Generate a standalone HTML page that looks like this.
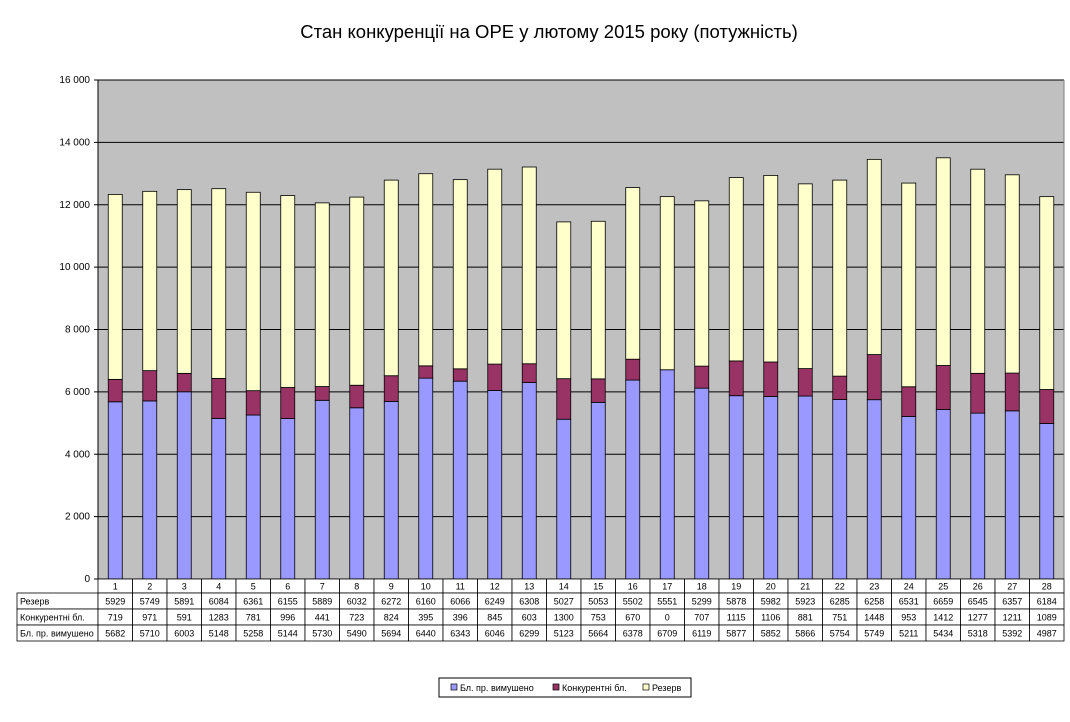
<!DOCTYPE html>
<html><head><meta charset="utf-8"><style>
body{margin:0;background:#fff;font-family:"Liberation Sans",sans-serif}
</style></head><body>
<svg id="c" width="1070" height="717" xmlns="http://www.w3.org/2000/svg" font-family="Liberation Sans, sans-serif">
<text x="549" y="38" text-anchor="middle" font-size="18.5">Стан конкуренції на ОРЕ  у лютому 2015 року (потужність)</text>
<rect x="98" y="80" width="966" height="499" fill="#c0c0c0"/>
<g id="grid"></g><g id="bars"></g><g id="table"></g>
<g>
<rect x="439" y="678" width="252" height="19" fill="#fff" stroke="#000"/>
<rect x="451" y="684" width="6" height="6" fill="#9999ff" stroke="#000" stroke-width="0.7"/><text x="460" y="691" font-size="9">Бл. пр. вимушено</text>
<rect x="553" y="684" width="6" height="6" fill="#993366" stroke="#000" stroke-width="0.7"/><text x="562" y="691" font-size="9">Конкурентні бл.</text>
<rect x="643" y="684" width="6" height="6" fill="#ffffcc" stroke="#000" stroke-width="0.7"/><text x="652" y="691" font-size="9">Резерв</text>
</g>
</svg>
<script>
const categories=[1,2,3,4,5,6,7,8,9,10,11,12,13,14,15,16,17,18,19,20,21,22,23,24,25,26,27,28];
const reserve=[5929,5749,5891,6084,6361,6155,5889,6032,6272,6160,6066,6249,6308,5027,5053,5502,5551,5299,5878,5982,5923,6285,6258,6531,6659,6545,6357,6184];
const competitive=[719,971,591,1283,781,996,441,723,824,395,396,845,603,1300,753,670,0,707,1115,1106,881,751,1448,953,1412,1277,1211,1089];
const forced=[5682,5710,6003,5148,5258,5144,5730,5490,5694,6440,6343,6046,6299,5123,5664,6378,6709,6119,5877,5852,5866,5754,5749,5211,5434,5318,5392,4987];
const yTicks=[0,2000,4000,6000,8000,10000,12000,14000,16000];
const yTickLabels=["0","2 000","4 000","6 000","8 000","10 000","12 000","14 000","16 000"];
const NS="http://www.w3.org/2000/svg";
const X0=98,X1=1064,Y0=579,Y1=80,YMAX=16000;
const cw=(X1-X0)/categories.length;
const y=v=>Y0-(v/YMAX)*(Y0-Y1);
const xc=i=>X0+cw*(i+0.5);
function mk(t,a,p,txt){const e=document.createElementNS(NS,t);for(const k in a)e.setAttribute(k,a[k]);if(txt!==undefined)e.textContent=txt;p.appendChild(e);return e;}
const grid=document.getElementById('grid');
yTicks.forEach((v,i)=>{
 const l=mk('line',{x1:X0-4,x2:X1,y1:y(v),y2:y(v),stroke:'#000','stroke-width':1},grid);
 
 
 const t=mk('text',{x:X0-8,y:y(v)+3,'text-anchor':'end','font-size':10},grid,yTickLabels[i]);
 
 
});
mk('line',{x1:X0,x2:X0,y1:Y1,y2:Y0,stroke:'#000'},grid);
mk('line',{x1:X1,x2:X1,y1:Y1,y2:Y0,stroke:'#808080'},grid);
const bars=document.getElementById('bars');
const series=[[forced,'#9999ff','bar-forced'],[competitive,'#993366','bar-competitive'],[reserve,'#ffffcc','bar-reserve']];
const bw=14;
categories.forEach((c,i)=>{
 let base=0;
 series.forEach(([arr,col,nm])=>{
  const v=arr[i];
  const r=mk('rect',{x:xc(i)-bw/2,y:y(base+v),width:bw,height:y(base)-y(base+v),fill:col,stroke:'#000','stroke-width':0.8},bars);
  
  
  base+=v;
 });
});
const tb=document.getElementById('table');
const rows=[["",categories],["Резерв",reserve],["Конкурентні бл.",competitive],["Бл. пр. вимушено",forced]];
const rowY=[579,593,609,625,641];
const LX=17;
rows.forEach((r,ri)=>{
 const ty=rowY[ri],h=rowY[ri+1]-ty;
 if(ri>0){
  mk('rect',{x:LX,y:ty,width:X0-LX,height:h,fill:'#fff',stroke:'#000','stroke-width':0.8},tb);
  const t=mk('text',{x:LX+3,y:ty+h/2+3.5,'font-size':9},tb,r[0]);
  
  
 }
 r[1].forEach((v,i)=>{
  mk('rect',{x:X0+cw*i,y:ty,width:cw,height:h,fill:'#fff',stroke:'#000','stroke-width':0.8},tb);
  const t=mk('text',{x:xc(i),y:ty+h/2+3.5,'text-anchor':'middle','font-size':9},tb,String(v));
  
  
 });
});
</script>
</body></html>
